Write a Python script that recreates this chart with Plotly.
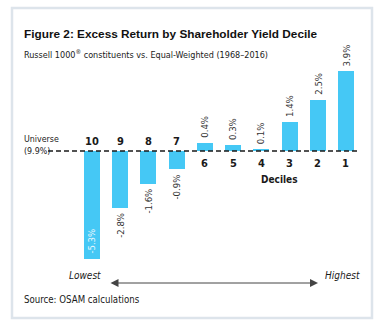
import plotly.graph_objects as go

# Excess return by shareholder yield decile (Russell 1000, 1968-2016)
deciles = ["10", "9", "8", "7", "6", "5", "4", "3", "2", "1"]
excess_return = [-5.3, -2.8, -1.6, -0.9, 0.4, 0.3, 0.1, 1.4, 2.5, 3.9]
value_labels = ["-5.3%", "-2.8%", "-1.6%", "-0.9%", "0.4%", "0.3%", "0.1%", "1.4%", "2.5%", "3.9%"]

W, H = 383, 331
# plot area in page pixels
PL, PR, PT, PB = 48, 360, 55, 265

BAR = "#45c8f5"
DARK = "#1a1a1a"
TXT = "#333333"
NARROW = "DejaVu Sans Condensed, Liberation Sans Narrow, Arial Narrow, sans-serif"
SANS = "Liberation Sans, Arial, sans-serif"


def px(x):
    return (x - PL) / (PR - PL)


def py(y):
    return (PB - y) / (PB - PT)


fig = go.Figure(
    go.Bar(
        x=deciles,
        y=excess_return,
        width=0.57,
        marker=dict(color=BAR, line=dict(width=0)),
        hoverinfo="skip",
    )
)

annotations = []

# rotated value labels: outside the bar, except the deepest one sits inside
for i, (v, lab) in enumerate(zip(excess_return, value_labels)):
    inside = v < -5
    if v >= 0:
        annotations.append(dict(x=i, y=v, text=lab, textangle=-90, showarrow=False,
                                yanchor="bottom", yshift=3,
                                font=dict(family=NARROW, size=9.5, color=TXT)))
    elif inside:
        annotations.append(dict(x=i, y=v, text=lab, textangle=-90, showarrow=False,
                                yanchor="bottom", yshift=3,
                                font=dict(family=NARROW, size=9.5, color="#eef8fd")))
    else:
        annotations.append(dict(x=i, y=v, text=lab, textangle=-90, showarrow=False,
                                yanchor="top", yshift=-3,
                                font=dict(family=NARROW, size=9.5, color=TXT)))

# decile numbers on the side of the baseline away from the bar
for i, (d, v) in enumerate(zip(deciles, excess_return)):
    annotations.append(dict(x=i, y=0, text=f"<b>{d}</b>", showarrow=False,
                            yanchor="bottom" if v < 0 else "top",
                            yshift=1 if v < 0 else -4,
                            font=dict(family=NARROW, size=11, color=DARK)))

annotations += [
    dict(xref="paper", yref="paper", x=px(279), y=py(179), xanchor="center",
         text="<b>Deciles</b>", showarrow=False,
         font=dict(family=NARROW, size=10, color=DARK)),
    dict(xref="paper", yref="paper", x=px(22), y=py(139), xanchor="left",
         text="Universe", showarrow=False,
         font=dict(family=NARROW, size=8.8, color=DARK)),
    dict(xref="paper", yref="paper", x=px(22), y=py(151), xanchor="left",
         text="(9.9%)", showarrow=False,
         font=dict(family=NARROW, size=8.8, color=DARK)),
    dict(xref="paper", yref="paper", x=px(22), y=py(25), xanchor="left",
         text="<b>Figure 2: Excess Return by Shareholder Yield Decile</b>",
         showarrow=False, font=dict(family=SANS, size=11.8, color="#111111")),
    dict(xref="paper", yref="paper", x=px(22), y=py(46), xanchor="left",
         text="Russell 1000<sup>®</sup> constituents vs. Equal-Weighted (1968–2016)",
         showarrow=False, font=dict(family=NARROW, size=9, color=DARK)),
    dict(xref="paper", yref="paper", x=px(22), y=py(307), xanchor="left",
         text="Source: OSAM calculations", showarrow=False,
         font=dict(family=NARROW, size=9.6, color=DARK)),
    dict(xref="paper", yref="paper", x=px(103), y=py(283), xanchor="right",
         text="<i>Lowest</i>", showarrow=False,
         font=dict(family=NARROW, size=10, color=DARK)),
    dict(xref="paper", yref="paper", x=px(323), y=py(283), xanchor="left",
         text="<i>Highest</i>", showarrow=False,
         font=dict(family=NARROW, size=10, color=DARK)),
    # double-headed direction arrow
    dict(xref="paper", yref="paper", x=px(318), y=py(283),
         ax=-(318 - 109), ay=0, text="", showarrow=True,
         arrowhead=2, startarrowhead=2, arrowside="end+start",
         arrowsize=1.6, startarrowsize=1.6, arrowwidth=1, arrowcolor="#444444"),
]

shapes = [
    # universe baseline
    dict(type="line", xref="paper", yref="y", x0=0, x1=1, y0=0, y1=0,
         line=dict(color=DARK, width=1.6, dash="5px,3px"), layer="above"),
    # figure frame
    dict(type="rect", xref="paper", yref="paper",
         x0=px(12), x1=px(372), y0=py(318), y1=py(8),
         line=dict(color="#dde4eb", width=2.5), layer="below"),
]

# y scale: ~20.4 px per percentage point, zero at page y=151
scale = 20.4
ymax = (151 - PT) / scale
ymin = ymax - (PB - PT) / scale
# x scale: decile centers 28.22 px apart, first centered at page x=92
step = 28.22
xmin = -(92 - PL) / step
xmax = xmin + (PR - PL) / step

fig.update_layout(
    width=W, height=H,
    margin=dict(l=PL, r=W - PR, t=PT, b=H - PB, pad=0),
    paper_bgcolor="white", plot_bgcolor="white",
    showlegend=False,
    xaxis=dict(type="category", range=[xmin, xmax], visible=False, fixedrange=True),
    yaxis=dict(range=[ymin, ymax], visible=False, fixedrange=True),
    annotations=annotations,
    shapes=shapes,
    bargap=0,
)

fig.write_html("out.html")
